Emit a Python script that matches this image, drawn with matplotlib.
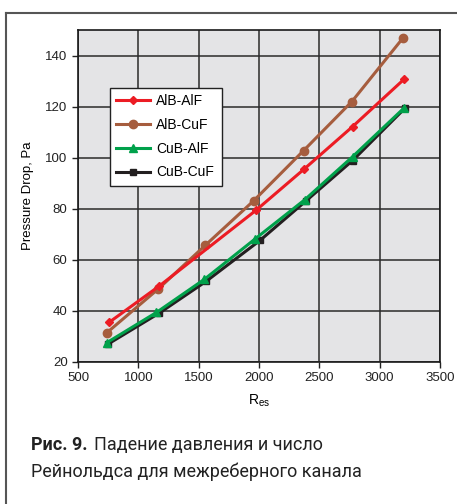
import matplotlib
matplotlib.use("Agg")
import matplotlib.pyplot as plt
from matplotlib.lines import Line2D

# Data
alb_alf_x = [760, 1175, 1975, 2373, 2776, 3204]
alb_alf_y = [35.6, 49.8, 79.4, 95.5, 112.2, 130.8]

alb_cuf_x = [740, 1165, 1555, 1955, 2370, 2770, 3192]
alb_cuf_y = [31.5, 48.6, 65.7, 83.1, 102.8, 122.0, 146.8]

cub_alf_x = [740, 1150, 1548, 1968, 2381, 2776, 3201]
cub_alf_y = [27.6, 39.4, 52.4, 68.2, 83.6, 100.4, 119.4]

cub_cuf_x = [748, 1175, 1562, 2008, 2390, 2776, 3210]
cub_cuf_y = [27.0, 39.2, 51.6, 67.6, 83.1, 98.9, 119.4]

x_ticks = [500, 1000, 1500, 2000, 2500, 3000, 3500]
y_ticks = [20, 40, 60, 80, 100, 120, 140]

series = [
    ("AlB-AlF", alb_alf_x, alb_alf_y, "#ec1c24", "D", 4.5),
    ("AlB-CuF", alb_cuf_x, alb_cuf_y, "#a65d3e", "o", 6),
    ("CuB-AlF", cub_alf_x, cub_alf_y, "#00a14b", "^", 6),
    ("CuB-CuF", cub_cuf_x, cub_cuf_y, "#231f20", "s", 5),
]

plt.rcParams['font.family'] = ['Liberation Sans', 'DejaVu Sans']

fig = plt.figure(figsize=(4.57, 5.04), dpi=100)
ax = fig.add_axes([78/457, 1-362/504, (440-78)/457, (362-30)/504])
ax.set_facecolor("#e4e4e6")

zorders = {"AlB-AlF": 5, "AlB-CuF": 4, "CuB-AlF": 3.5, "CuB-CuF": 3}
handles = {}
for name, xs, ys, c, m, ms in series:
    h, = ax.plot(xs, ys, color=c, marker=m, markersize=ms, linewidth=2.2,
                 markeredgecolor=c, label=name, zorder=zorders[name])
    handles[name] = h

ax.set_xlim(500, 3500)
ax.set_ylim(20, 150)
ax.set_xticks(x_ticks)
ax.set_yticks(y_ticks)
ax.tick_params(labelsize=9.5, direction='out', length=4, width=1, colors='#222222')
ax.grid(True, color='#2a2a2a', linewidth=1.1)
ax.set_axisbelow(True)
for s in ax.spines.values():
    s.set_color('#1a1a1a')
    s.set_linewidth(1.2)

ax.set_xlabel(r"R$_{\mathregular{es}}$", fontsize=10, labelpad=6)
ax.set_ylabel("Pressure Drop, Pa", fontsize=9.5, labelpad=8)

leg = ax.legend([handles[s[0]] for s in series], [s[0] for s in series],
                loc='upper left',
                bbox_to_anchor=((110-78)/362, 1-(88-30)/332, (222-110)/362, 0),
                mode='expand', borderaxespad=0,
                fancybox=False, framealpha=1, edgecolor='#222222',
                fontsize=10, handlelength=2.45, labelspacing=0.7,
                borderpad=0.45, handletextpad=0.4)
leg.get_frame().set_linewidth(1.0)
leg.set_zorder(10)

# outer frame
fig.add_artist(Line2D([6/457, 6/457], [0, 1-13/504], transform=fig.transFigure,
                      color='#555555', linewidth=1.5))
fig.add_artist(Line2D([6/457, 1], [1-13/504, 1-13/504], transform=fig.transFigure,
                      color='#555555', linewidth=1.5))

# caption
cap_font = ['Roboto', 'DejaVu Sans']
t1 = fig.text(31/457, 1-450/504, "Рис. 9.", fontsize=13, fontweight='bold',
              family=cap_font, color='#222222', va='baseline')
fig.canvas.draw()
bb = t1.get_window_extent()
fig.text((bb.x1 + 7) / fig.bbox.width, 1-450/504, "Падение давления и число",
         fontsize=13, family=cap_font, color='#222222', va='baseline')
fig.text(31/457, 1-477/504, "Рейнольдса для межреберного канала",
         fontsize=13, family=cap_font, color='#222222', va='baseline')

fig.savefig("out.png", dpi=100)
